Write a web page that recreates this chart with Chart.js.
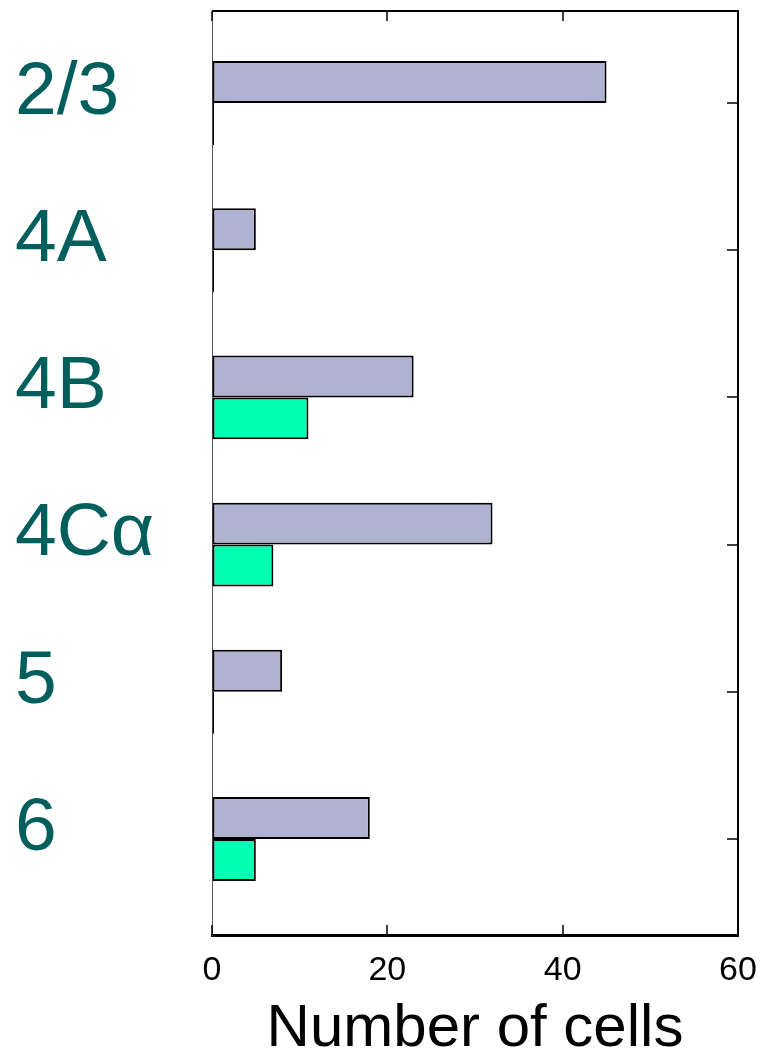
<!DOCTYPE html>
<html><head><meta charset="utf-8">
<script src="https://cdn.jsdelivr.net/npm/chart.js@4/dist/chart.umd.min.js"></script>
<style>html,body{margin:0;padding:0;background:#fff}#wrap{width:767px;height:1059px;position:relative}</style>
</head><body><div id="wrap"><canvas id="c" width="767" height="1059"></canvas></div>
<script>
const categories = ['2/3', '4A', '4B', '4Cα', '5', '6'];
const allCells = [45, 5, 23, 32, 8, 18];
const greenCells = [0, 0, 11, 7, 0, 5];
const xTickValues = [0, 20, 40, 60];

const innerTicks = {
  id: 'innerTicks',
  afterDatasetsDraw(chart) {
    const ctx = chart.ctx, a = chart.chartArea;
    const xs = chart.scales.x, ys = chart.scales.y;
    ctx.save();
    ctx.strokeStyle = '#000';
    ctx.lineWidth = 1.5;
    xs.ticks.forEach(t => {
      const px = Math.round(xs.getPixelForValue(t.value));
      ctx.beginPath();
      ctx.moveTo(px, a.bottom); ctx.lineTo(px, a.bottom - 10);
      ctx.moveTo(px, a.top); ctx.lineTo(px, a.top + 10);
      ctx.stroke();
    });
    ys.ticks.forEach(t => {
      const py = Math.round(ys.getPixelForValue(t.value));
      ctx.beginPath();
      ctx.moveTo(a.right, py); ctx.lineTo(a.right - 11, py);
      ctx.stroke();
    });
    ctx.lineWidth = 2;
    ctx.beginPath();
    ctx.moveTo(a.left, a.top); ctx.lineTo(a.right, a.top); ctx.lineTo(a.right, a.bottom);
    ctx.stroke();
    ctx.restore();
  }
};

new Chart(document.getElementById('c'), {
  type: 'bar',
  data: {
    datasets: [
      { label: 'All', data: allCells.map((v, i) => ({ x: v, y: i })),
        backgroundColor: '#b0b2d1', borderColor: '#000', borderWidth: 2, borderSkipped: false,
        categoryPercentage: 0.57, barPercentage: 1 },
      { label: 'Green', data: greenCells.map((v, i) => ({ x: v, y: i })),
        backgroundColor: '#00ffb4', borderColor: '#000', borderWidth: 2, borderSkipped: false,
        minBarLength: 2, categoryPercentage: 0.57, barPercentage: 1 }
    ]
  },
  options: {
    indexAxis: 'y',
    responsive: false,
    animation: false,
    devicePixelRatio: 1,
    layout: { padding: { top: 11, left: 15, right: 29, bottom: 0 } },
    plugins: { legend: { display: false }, tooltip: { enabled: false } },
    scales: {
      x: {
        type: 'linear', position: 'bottom', min: 0, max: 60,
        afterBuildTicks: s => { s.ticks = xTickValues.map(v => ({ value: v })); },
        afterFit: s => { s.height = 124; s.paddingLeft = 0; s.paddingRight = 0; },
        grid: { drawOnChartArea: false, drawTicks: false },
        border: { display: true, color: '#000', width: 3 },
        ticks: { color: '#000', padding: 15, font: { family: 'Liberation Sans, Arial, sans-serif', size: 34 } },
        title: { display: true, text: 'Number of cells', color: '#000', padding: 0,
          font: { family: 'Liberation Sans, Arial, sans-serif', size: 60, lineHeight: 1.0 } }
      },
      y: {
        type: 'linear', position: 'left', reverse: true, min: -0.625, max: 5.652, offset: false,
        afterBuildTicks: s => { s.ticks = categories.map((c, i) => ({ value: i })); },
        afterFit: s => { s.width = 197; s.paddingTop = 0; s.paddingBottom = 0; },
        grid: { drawOnChartArea: false, drawTicks: false, offset: false },
        border: { display: true, color: '#555', width: 1 },
        ticks: {
          autoSkip: false, crossAlign: 'far', labelOffset: -10, color: '#005f5c',
          font: { family: 'Liberation Sans, Arial, sans-serif', size: 75 },
          callback: v => categories[v]
        }
      }
    }
  },
  plugins: [innerTicks]
});
</script></body></html>
